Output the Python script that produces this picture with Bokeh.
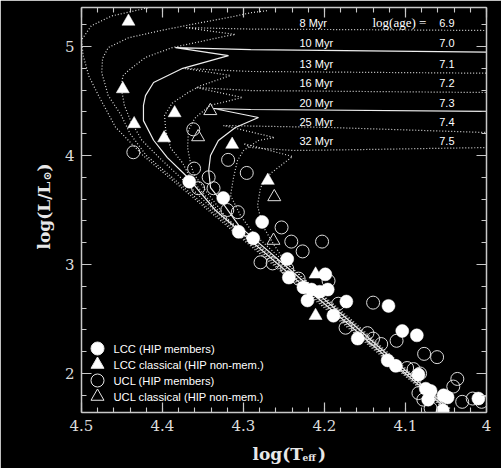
import math
from bokeh.plotting import figure
from bokeh.models import (Range1d, LinearAxis, SingleIntervalTicker,
                          CustomJSTickFormatter, CustomLabelingPolicy, Label)
from bokeh.embed import file_html
from bokeh.resources import INLINE

# ---------------- isochrones (log Teff, log L) ----------------
iso67_t = [4.053, 4.184, 4.264, 4.344, 4.424, 4.458, 4.479, 4.491, 4.498, 4.500, 4.488, 4.463, 4.421, 4.390]
iso67_l = [1.68, 2.50, 3.00, 3.50, 4.00, 4.26, 4.55, 4.73, 4.92, 5.06, 5.19, 5.28, 5.35, 5.40]

iso68_t = [4.052, 4.182, 4.262, 4.341, 4.420, 4.440, 4.451, 4.467, 4.475, 4.474, 4.467, 4.442, 4.400, 4.359, 4.316, 4.291, 4.270]
iso68_l = [1.68, 2.50, 3.00, 3.50, 4.00, 4.20, 4.37, 4.55, 4.76, 4.89, 4.99, 5.08, 5.15, 5.21, 5.27, 5.31, 5.33]

iso69_t = [4.051, 4.180, 4.260, 4.337, 4.378, 4.404, 4.4255, 4.4395, 4.447, 4.451, 4.449, 4.442, 4.421, 4.388, 4.319, 4.310, 4.372, 4.291, 4.168, 4.000]
iso69_l = [1.68, 2.50, 3.00, 3.50, 3.80, 3.98, 4.14, 4.32, 4.46, 4.62, 4.73, 4.78, 4.90, 4.99, 5.10, 5.11, 5.174, 5.160, 5.155, 5.147]

iso70_t = [4.050, 4.178, 4.257, 4.335, 4.369, 4.394, 4.411, 4.4235, 4.4235, 4.421, 4.411, 4.375, 4.3185, 4.384, 4.291, 4.000]
iso70_l = [1.68, 2.50, 3.00, 3.50, 3.80, 3.98, 4.14, 4.32, 4.46, 4.55, 4.67, 4.80, 4.917, 4.99, 4.972, 4.948]

iso71_t = [4.049, 4.176, 4.255, 4.332, 4.3654, 4.375, 4.390, 4.396, 4.3975, 4.388, 4.368, 4.353, 4.316, 4.372, 4.291, 4.000]
iso71_l = [1.68, 2.50, 3.00, 3.50, 3.79, 3.93, 4.07, 4.23, 4.37, 4.48, 4.58, 4.64, 4.734, 4.798, 4.771, 4.755]

iso72_t = [4.048, 4.174, 4.252, 4.318, 4.347, 4.3617, 4.3654, 4.369, 4.368, 4.3617, 4.359, 4.341, 4.3012, 4.359, 4.291, 4.000]
iso72_l = [1.68, 2.50, 3.00, 3.40, 3.68, 3.835, 3.93, 4.07, 4.23, 4.32, 4.35, 4.46, 4.532, 4.624, 4.596, 4.578]

iso73_t = [4.047, 4.172, 4.250, 4.305, 4.328, 4.3407, 4.343, 4.3407, 4.331, 4.310, 4.2815, 4.337, 4.291, 4.000]
iso73_l = [1.68, 2.50, 3.00, 3.35, 3.587, 3.706, 3.862, 4.00, 4.138, 4.257, 4.349, 4.431, 4.422, 4.404]

iso74_t = [4.046, 4.170, 4.246, 4.2877, 4.3037, 4.316, 4.3123, 4.3074, 4.300, 4.2815, 4.2617, 4.3247, 4.1926, 4.000]
iso74_l = [1.68, 2.50, 3.00, 3.284, 3.45, 3.633, 3.798, 3.954, 4.046, 4.138, 4.165, 4.275, 4.257, 4.211]

iso75_t = [4.045, 4.168, 4.248, 4.264, 4.2765, 4.2827, 4.279, 4.2667, 4.2395, 4.300, 4.2914, 4.2383, 4.150, 4.000]
iso75_l = [1.68, 2.50, 3.018, 3.20, 3.358, 3.541, 3.706, 3.835, 3.991, 4.110, 4.073, 4.046, 4.055, 4.073]

iso_solid = [False, False, False, True, False, False, True, False, False]

age_myr_labels = ["8 Myr", "10 Myr", "13 Myr", "16 Myr", "20 Myr", "25 Myr", "32 Myr"]
log_age_labels = ["6.9", "7.0", "7.1", "7.2", "7.3", "7.4", "7.5"]

# ---------------- stars ----------------
lcc_t = [4.367, 4.325, 4.306, 4.277, 4.288, 4.246, 4.244, 4.199, 4.226, 4.216,
         4.206, 4.196, 4.221, 4.189, 4.173, 4.121, 4.159, 4.104, 4.086, 4.122,
         4.112, 4.084, 4.075, 4.069, 4.072, 4.053, 4.048, 4.054, 4.010]
lcc_l = [3.76, 3.61, 3.30, 3.39, 3.24, 3.05, 2.88, 2.91, 2.79, 2.77,
         2.75, 2.77, 2.67, 2.53, 2.66, 2.62, 2.32, 2.39, 2.35, 2.12,
         2.07, 1.99, 1.86, 1.84, 1.76, 1.80, 1.78, 1.66, 1.77]

lcc_cl_t = [4.442, 4.449, 4.435, 4.385, 4.398, 4.314, 4.270, 4.211, 4.211]
lcc_cl_l = [5.23, 4.61, 4.29, 4.39, 4.16, 4.10, 3.77, 2.91, 2.53]

ucl_t = [4.436, 4.362, 4.319, 4.296, 4.361, 4.343, 4.356, 4.337, 4.320, 4.307,
         4.253, 4.241, 4.203, 4.227, 4.279, 4.264, 4.246, 4.232, 4.195, 4.183,
         4.174, 4.140, 4.147, 4.140, 4.130, 4.111, 4.077, 4.061, 4.098, 4.090,
         4.082, 4.084, 4.078, 4.069, 4.041, 4.036, 4.030, 4.017, 4.006]
ucl_l = [4.03, 4.24, 3.96, 3.84, 3.88, 3.80, 3.70, 3.70, 3.50, 3.48,
         3.34, 3.21, 3.21, 3.12, 3.02, 3.01, 2.96, 2.87, 2.85, 2.64,
         2.42, 2.65, 2.37, 2.32, 2.27, 2.30, 2.18, 2.15, 2.05, 2.04,
         2.00, 1.82, 1.76, 1.68, 1.88, 1.95, 1.74, 1.77, 1.74]

ucl_cl_t = [4.341, 4.356, 4.262, 4.263]
ucl_cl_l = [4.41, 4.17, 3.62, 3.22]

legend_labels = ["LCC (HIP members)", "LCC classical (HIP non-mem.)",
                 "UCL (HIP members)", "UCL classical (HIP non-mem.)"]

# ---------------- figure ----------------
XL, XR, YB, YT = 4.5, 4.0, 1.642, 5.358
FL, FR, FT, FB = 81, 486, 7, 412   # frame pixel edges


def px_x(px):
    return XL + (px - FL) * (XR - XL) / (FR - FL)


def px_y(py):
    return YT - (py - FT) * (YT - YB) / (FB - FT)


p = figure(width=501, height=468, x_range=Range1d(XL, XR), y_range=Range1d(YB, YT),
           output_backend="svg", toolbar_location=None,
           min_border_left=FL, min_border_right=501 - FR,
           min_border_top=FT, min_border_bottom=468 - FB,
           background_fill_color="black", border_fill_color="black",
           outline_line_color=None)
p.grid.visible = False

AX = "#c8c8c8"
fmt = CustomJSTickFormatter(code="""
return Math.abs(tick - Math.round(tick)) < 1e-6 ? Math.round(tick).toFixed(0) : tick.toFixed(1);
""")
no_labels = CustomLabelingPolicy(code="return new Set()")


def style_axis(ax, interval, labels):
    ax.ticker = SingleIntervalTicker(interval=interval, num_minor_ticks=5)
    ax.formatter = fmt
    ax.axis_line_color = AX
    ax.axis_line_width = 1.5
    ax.major_tick_line_color = AX
    ax.major_tick_line_width = 1.2
    ax.minor_tick_line_color = AX
    ax.minor_tick_line_width = 1.1
    ax.major_tick_in = 10
    ax.major_tick_out = 0
    ax.minor_tick_in = 5
    ax.minor_tick_out = 0
    ax.axis_label = None
    ax.major_label_text_font = "DejaVu Serif"
    ax.major_label_text_font_size = "15px"
    ax.major_label_text_color = "#dcdcdc"
    if labels:
        ax.major_label_standoff = 7
    else:
        ax.major_label_policy = no_labels
        ax.major_label_text_font_size = "1px"
        ax.major_label_standoff = 0


style_axis(p.xaxis[0], 0.1, True)
style_axis(p.yaxis[0], 1, True)
top = LinearAxis()
right = LinearAxis()
style_axis(top, 0.1, False)
style_axis(right, 1, False)
p.add_layout(top, "above")
p.add_layout(right, "right")

# isochrones
iso_t = [iso67_t, iso68_t, iso69_t, iso70_t, iso71_t, iso72_t, iso73_t, iso74_t, iso75_t]
iso_l = [iso67_l, iso68_l, iso69_l, iso70_l, iso71_l, iso72_l, iso73_l, iso74_l, iso75_l]
for t, l, solid in zip(iso_t, iso_l, iso_solid):
    if solid:
        p.line(t, l, line_color="#eeeeee", line_width=1.2)
    else:
        p.line(t, l, line_color="#dddddd", line_width=1.2, line_dash="1 2")

# stars
p.scatter(ucl_t, ucl_l, marker="circle", size=13, fill_color=None,
          line_color="#dddddd", line_width=1.0)
p.scatter(ucl_cl_t, ucl_cl_l, marker="triangle", size=13, fill_color=None,
          line_color="#dddddd", line_width=1.0)
p.scatter(lcc_t, lcc_l, marker="circle", size=13, fill_color="white",
          line_color="white", line_width=0.5)
p.scatter(lcc_cl_t, lcc_cl_l, marker="triangle", size=13, fill_color="white",
          line_color="white", line_width=0.5)

# isochrone labels
row_py = [22, 42, 63, 82, 102, 121, 140]
for txt, num, py in zip(age_myr_labels, log_age_labels, row_py):
    p.add_layout(Label(x=px_x(299), y=px_y(py), text=txt, text_align="left",
                       text_baseline="middle", text_color="white",
                       text_font="Liberation Sans", text_font_size="11px"))
    p.add_layout(Label(x=px_x(454), y=px_y(py), text=num, text_align="right",
                       text_baseline="middle", text_color="white",
                       text_font="Liberation Sans", text_font_size="11px"))
p.add_layout(Label(x=px_x(372), y=px_y(row_py[0]), text="log(age) =", text_align="left",
                   text_baseline="middle", text_color="white",
                   text_font="Liberation Serif", text_font_size="13px"))

# legend
leg_py = [348, 364, 380, 396]
leg_marker = ["circle", "triangle", "circle", "triangle"]
leg_fill = ["white", "white", None, None]
for lab, py, mk, fc in zip(legend_labels, leg_py, leg_marker, leg_fill):
    p.scatter([px_x(97)], [px_y(py)], marker=mk, size=13, fill_color=fc,
              line_color="#e8e8e8", line_width=1.0)
    p.add_layout(Label(x=px_x(113), y=px_y(py), text=lab, text_align="left",
                       text_baseline="middle", text_color="white",
                       text_font="Liberation Sans", text_font_size="11.2px"))

# axis titles, placed in side panels (not clipped to the frame)
lab_style = dict(text_color="#e8e8e8", text_font="DejaVu Serif",
                 text_font_style="bold")
GAP = "\u00a0\u00a0\u2009"
p.add_layout(Label(x=px_x(252), y=px_y(453), text="log(T" + GAP + ")", text_align="left",
                   text_baseline="alphabetic", text_font_size="17px", **lab_style), "below")
p.add_layout(Label(x=px_x(302), y=px_y(457), text="eff", text_align="left",
                   text_baseline="alphabetic", text_font_size="9px", **lab_style), "below")

p.add_layout(Label(x=px_x(43), y=px_y(249), text="log(L/L", angle=math.pi / 2,
                   text_align="left", text_baseline="alphabetic",
                   text_font_size="17px", **lab_style), "left")
p.add_layout(Label(x=px_x(47), y=px_y(180), text="\u2299", angle=math.pi / 2,
                   text_align="left", text_baseline="alphabetic",
                   text_font_size="11px", **lab_style), "left")
p.add_layout(Label(x=px_x(43), y=px_y(171), text=")", angle=math.pi / 2,
                   text_align="left", text_baseline="alphabetic",
                   text_font_size="17px", **lab_style), "left")

open("out.html", "w").write(file_html(p, INLINE))
